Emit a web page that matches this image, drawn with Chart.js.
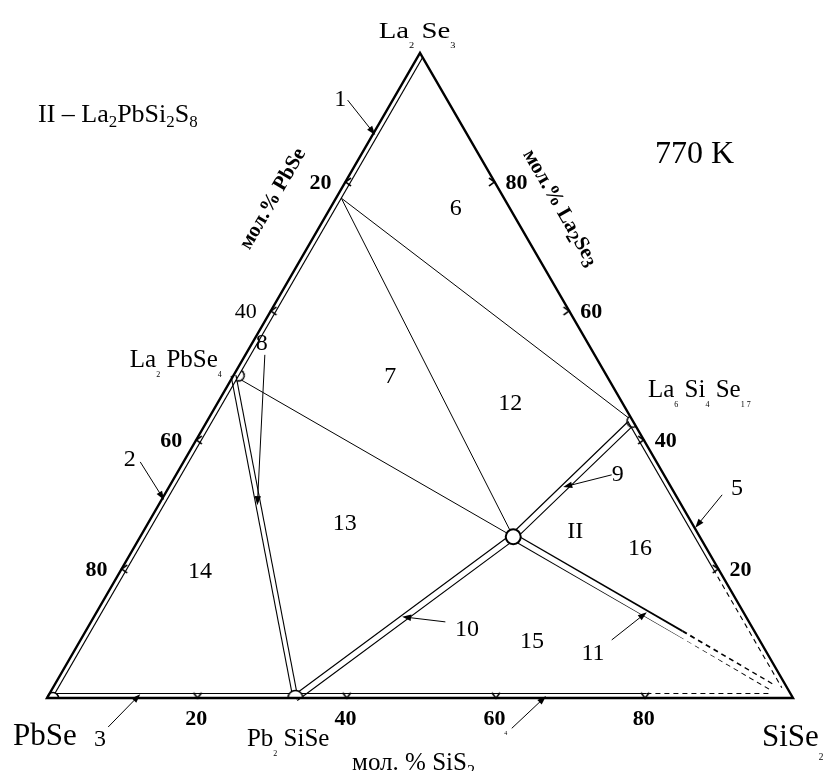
<!DOCTYPE html>
<html>
<head>
<meta charset="utf-8">
<script src="https://cdn.jsdelivr.net/npm/chart.js@4.4.1/dist/chart.umd.min.js"></script>
<style>
  html, body { margin: 0; padding: 0; background: #fff; }
  #wrap { width: 829px; height: 771px; }
</style>
</head>
<body>
<div id="wrap"><canvas id="diagram" width="829" height="771"></canvas></div>
<script>
// составы: [мол.% SiSe2, мол.% La2Se3], остальное - PbSe
const vertexNames = ['PbSe', 'SiSe2', 'La2Se3'];
const vertexComp = [[0, 0], [100, 0], [0, 100]];
const compoundNames = ['La2PbSe4', 'Pb2SiSe4', 'La6Si4Se17', 'La2PbSi2Se8'];
const compoundComp = [[0, 50], [33.3, 0], [57.1, 42.9], [50, 25]];
const ssLimit = [0.7, 77.5];      // предел растворимости на основе La2Se3
const strip11End = [80, 10];      // конец сплошной части полосы 11
const cornerEnds = [96.5, 1.6];   // где обрываются пунктиры у SiSe2
const stripWidth = 0.7;           // ширина областей твердых растворов у сторон
const rightStripEnd = 20;         // мол.% La2Se3
const bottomStripEnd = 80;        // мол.% SiSe2
const tickValues = [20, 40, 60, 80];
const tickLabels = tickValues.map(String);

const [PbSe, SiSe2, La2Se3] = vertexComp;
const [La2PbSe4, Pb2SiSe4, La6Si4Se17, II] = compoundComp;
const w = stripWidth;

// перевод состава в декартовы координаты
function tern(c) { return { x: c[0] + c[1] / 2, y: c[1] }; }

function line(points, opts) {
    return Object.assign({
        data: points.map(tern), showLine: true, pointRadius: 0,
        borderColor: '#000', borderWidth: 1, fill: false, tension: 0
    }, opts);
}

// маркеры
function makeChevron() {
    const c = document.createElement('canvas');
    c.width = 12; c.height = 12;
    const g = c.getContext('2d');
    g.strokeStyle = '#000'; g.lineWidth = 1.6;
    g.beginPath(); g.moveTo(2, 3); g.lineTo(6, 8.5); g.lineTo(10, 3); g.stroke();
    return c;
}
function makeSemi(r) {
    const s = 2 * Math.ceil(r + 2);
    const c = document.createElement('canvas');
    c.width = s; c.height = s;
    const g = c.getContext('2d'), m = s / 2;
    g.beginPath(); g.arc(m, m, r, Math.PI, 2 * Math.PI); g.closePath();
    g.fillStyle = '#fff'; g.fill();
    g.beginPath(); g.arc(m, m, r, Math.PI, 2 * Math.PI);
    g.lineWidth = 1.5; g.strokeStyle = '#000'; g.stroke();
    return c;
}
const chevron = makeChevron();

const tickPts = [], tickRot = [];
tickValues.forEach(v => {
    tickPts.push([w / 2, 100 - v]); tickRot.push(90);
    tickPts.push([v, w / 2]); tickRot.push(0);
    tickPts.push([100 - v - w / 2, v]); tickRot.push(-90);
});

const datasets = [
    // стороны треугольника
    line([PbSe, SiSe2, La2Se3, PbSe, SiSe2], { borderWidth: 2.4, borderJoinStyle: 'miter', order: 1 }),
    { data: tickPts.map(tern), pointStyle: chevron, rotation: tickRot, pointRadius: 4, showLine: false, order: 3 },
    // внутренние линии полос вдоль сторон
    line([[w, w], [w, 100 - w]], { borderWidth: 1.2, order: 4 }),
    line([[100 - w - La6Si4Se17[1], La6Si4Se17[1]], [100 - w - rightStripEnd, rightStripEnd]], { borderWidth: 1.2, order: 4 }),
    line([[100 - w - rightStripEnd, rightStripEnd], [100 - w - cornerEnds[1], cornerEnds[1]]], { borderWidth: 1.1, borderDash: [5, 4], order: 4 }),
    line([[w, w], [bottomStripEnd, w]], { borderWidth: 1.2, order: 9 }),
    line([[bottomStripEnd, w], [cornerEnds[0], w]], { borderWidth: 1.1, borderDash: [5, 4], order: 9 }),
    // соединения
    { data: [[0.8, 0], [w, La2PbSe4[1]], La6Si4Se17, Pb2SiSe4].map(tern),
      pointStyle: [makeSemi(5.5), makeSemi(5.5), makeSemi(6), makeSemi(7.5)],
      rotation: [0, 120, 240, 0], pointRadius: 5, showLine: false, order: 5 },
    { data: [tern(II)], pointStyle: 'circle', pointRadius: 7.5, backgroundColor: '#fff',
      borderColor: '#000', pointBorderWidth: 2, showLine: false, order: 5 },
    // двойные линии (полосы)
    line([La2PbSe4, Pb2SiSe4], { borderWidth: 6, order: 11 }),
    line([La2PbSe4, Pb2SiSe4], { borderWidth: 3.8, borderColor: '#fff', order: 10 }),
    line([La6Si4Se17, II, Pb2SiSe4], { borderWidth: 7.5, order: 11 }),
    line([La6Si4Se17, II, Pb2SiSe4], { borderWidth: 5.2, borderColor: '#fff', order: 10 }),
    line([II, strip11End], { borderWidth: 7.5, order: 11 }),
    line([strip11End, cornerEnds], { borderWidth: 7.5, borderDash: [5, 4], order: 11 }),
    line([II, cornerEnds], { borderWidth: 5.2, borderColor: '#fff', order: 10 }),
    // коноды
    line([ssLimit, II], { order: 12 }),
    line([ssLimit, La6Si4Se17], { order: 12 }),
    line([La2PbSe4, II], { order: 12 })
];

// подписи
const FONT = '"Liberation Serif", "Times New Roman", serif';
function rich(ctx, px, py, parts, o) {
    const size = o.size, weight = o.bold ? 'bold ' : '';
    const sub = o.sub || 0.65, dy = o.dy || 0.22;
    const fontFor = s => weight + (s ? size * sub : size) + 'px ' + FONT;
    const widths = parts.map(p => { ctx.font = fontFor(p[1]); return ctx.measureText(p[0]).width; });
    const total = widths.reduce((a, b) => a + b, 0);
    ctx.save();
    ctx.translate(px, py);
    if (o.rotate) ctx.rotate(o.rotate * Math.PI / 180);
    if (o.scaleX) ctx.scale(o.scaleX, 1);
    ctx.textAlign = 'left';
    ctx.textBaseline = 'alphabetic';
    ctx.fillStyle = '#000';
    let x = o.align === 'left' ? 0 : -total / 2;
    const base = size * 0.33;
    parts.forEach((p, i) => {
        ctx.font = fontFor(p[1]);
        ctx.fillText(p[0], x, base + (p[1] ? size * dy : 0));
        x += widths[i];
    });
    ctx.restore();
}
function arrow(ctx, x1, y1, x2, y2) {
    const a = Math.atan2(y2 - y1, x2 - x1), L = 9, W = 3.2;
    ctx.beginPath();
    ctx.moveTo(x1, y1);
    ctx.lineTo(x2 - 5 * Math.cos(a), y2 - 5 * Math.sin(a));
    ctx.lineWidth = 1; ctx.strokeStyle = '#000'; ctx.stroke();
    ctx.beginPath();
    ctx.moveTo(x2, y2);
    ctx.lineTo(x2 - L * Math.cos(a) + W * Math.sin(a), y2 - L * Math.sin(a) - W * Math.cos(a));
    ctx.lineTo(x2 - L * Math.cos(a) - W * Math.sin(a), y2 - L * Math.sin(a) + W * Math.cos(a));
    ctx.closePath(); ctx.fillStyle = '#000'; ctx.fill();
}

const labelsPlugin = {
    id: 'labels',
    afterDatasetsDraw(chart) {
        const ctx = chart.ctx, sx = chart.scales.x, sy = chart.scales.y;
        const P = (x, y) => [sx.getPixelForValue(x), sy.getPixelForValue(y)];
        const put = (at, parts, o) => { const p = P(at[0], at[1]); rich(ctx, p[0], p[1], parts, o); };

        // вершины и соединения
        put([49.6, 103.6], [['La'], ['2', 1], [' Se'], ['3', 1]], { size: 24, sub: 0.36, dy: 0.42, scaleX: 1.2 });
        put([-4.56, -5.74], [['PbSe']], { size: 31, align: 'left' });
        put([95.84, -5.9], [['SiSe'], ['2', 1]], { size: 31, sub: 0.3, dy: 0.45, align: 'left' });
        put([26.8, -6.2], [['Pb'], ['2', 1], [' SiSe']], { size: 25, sub: 0.32, dy: 0.4, align: 'left' });
        put([11.1, 52.6], [['La'], ['2', 1], [' PbSe'], ['4', 1]], { size: 25, sub: 0.32, dy: 0.4, align: 'left' });
        put([80.56, 47.9], [['La'], ['6', 1], [' Si'], ['4', 1], [' Se'], ['1 7', 1]], { size: 25, sub: 0.32, dy: 0.4, align: 'left' });
        put([-1.21, 90.7], [['II – La'], ['2', 1], ['PbSi'], ['2', 1], ['S'], ['8', 1]], { size: 26, align: 'left' });
        put([81.5, 84.6], [['770 K']], { size: 32, align: 'left' });

        // названия осей
        put([30.13, 77.5], [['мол.% PbSe']], { size: 21, bold: true, rotate: -60 });
        put([68.97, 76.1], [['мол.% La'], ['2', 1], ['Se'], ['3', 1]], { size: 21, bold: true, rotate: 60, sub: 0.85, dy: 0.2 });
        put([40.9, -9.9], [['мол. % SiS'], ['2', 1]], { size: 25, align: 'left' });

        // подписи делений
        tickValues.forEach((v, i) => {
            let p = P(tern([0, 100 - v]).x, 100 - v);
            rich(ctx, p[0] - 25, p[1], [[tickLabels[i]]], { size: 22, bold: v !== 40 });
            p = P(tern([100 - v, v]).x, v);
            rich(ctx, p[0] + 22, p[1], [[tickLabels[i]]], { size: 22, bold: true });
            p = P(v, 0);
            rich(ctx, p[0], p[1] + 20, [[tickLabels[i]]], { size: 22, bold: true });
        });

        // номера областей
        const regions = [
            ['1', 39.3, 93.0], ['2', 11.1, 37.2], ['3', 7.1, -6.2], ['5', 92.5, 32.7],
            ['6', 54.8, 76.1], ['7', 46.0, 50.1], ['8', 28.8, 55.2], ['9', 76.5, 34.9],
            ['10', 56.3, 10.9], ['11', 73.2, 7.1], ['12', 62.1, 45.9], ['13', 39.9, 27.3],
            ['14', 20.5, 19.8], ['15', 65.0, 9.0], ['16', 79.5, 23.4], ['II', 70.8, 26.0]
        ];
        regions.forEach(r => put([r[1], r[2]], [[r[0]]], { size: 24 }));
        put([61.5, -5.4], [['4']], { size: 6 });

        // стрелки
        const arrows = [
            [40.3, 92.7, 44.0, 87.3], [12.5, 36.6, 15.7, 30.7], [8.2, -4.5, 12.5, 0.6],
            [62.3, -4.7, 66.9, 0.3], [90.5, 31.5, 86.9, 26.4], [29.2, 53.2, 28.2, 29.9],
            [75.7, 34.6, 69.2, 32.7], [53.4, 11.8, 47.6, 12.6], [75.7, 9.0, 80.4, 13.3]
        ];
        arrows.forEach(a => {
            const p = P(a[0], a[1]), q = P(a[2], a[3]);
            arrow(ctx, p[0], p[1], q[0], q[1]);
        });
    }
};

new Chart(document.getElementById('diagram'), {
    type: 'scatter',
    data: { datasets },
    options: {
        responsive: false,
        animation: false,
        devicePixelRatio: 1,
        events: [],
        layout: { padding: 0, autoPadding: false },
        plugins: { legend: { display: false }, tooltip: { enabled: false } },
        scales: {
            x: { type: 'linear', min: -6.3, max: 104.826, display: false },
            y: { type: 'linear', min: -11.318, max: 108.217, display: false }
        }
    },
    plugins: [labelsPlugin]
});
</script>
</body>
</html>
